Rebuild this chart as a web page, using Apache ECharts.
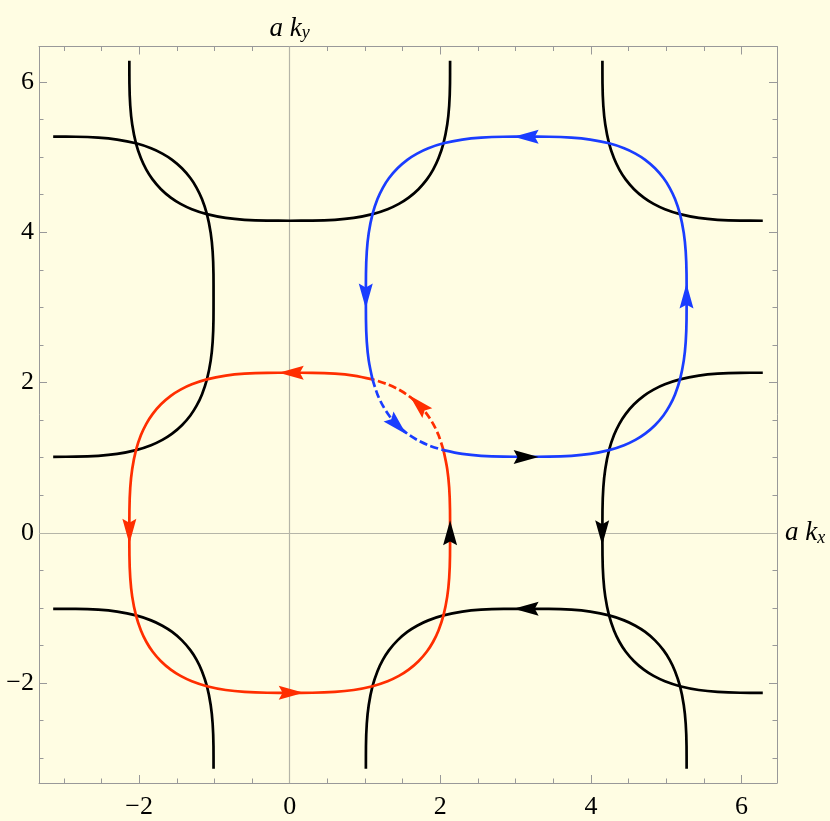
<!DOCTYPE html>
<html>
<head>
<meta charset="utf-8">
<script src="https://cdn.jsdelivr.net/npm/echarts@6/dist/echarts.min.js"></script>
<style>
  html, body { margin: 0; padding: 0; background: #fffde3; }
  #chart { width: 830px; height: 821px; }
</style>
</head>
<body>
<div id="chart"></div>
<script>
// one quarter of the rounded-square orbit (offset from loop centre),
// going counter-clockwise from the +x side to the +y side
var cornerProfile = [
  [2.13, 0], [2.129, 0.3], [2.118, 0.6], [2.092, 0.85], [2.042, 1.10],
  [1.976, 1.30], [1.905, 1.45], [1.822, 1.58], [1.71, 1.71],
  [1.58, 1.822], [1.45, 1.905], [1.30, 1.976], [1.10, 2.042],
  [0.85, 2.092], [0.6, 2.118], [0.3, 2.129], [0, 2.13]
];
// profile indices where the red and blue orbits cross
var crossIdx = [4, 12];

var redCenter = [0, 0];
var blueCenter = [Math.PI, Math.PI];
// open black pieces: lattice copies of the orbits, cut at the zone edges
var blackCenters = [
  [0, 2 * Math.PI], [-Math.PI, Math.PI], [-Math.PI, -Math.PI],
  [Math.PI, -Math.PI], [2 * Math.PI, 0], [2 * Math.PI, 2 * Math.PI]
];
var blackQuads = [[2, 3], [3, 0], [0], [0, 1], [1, 2], [2]];

// arrowheads: [x, y, direction of travel in degrees]
var redArrows = [[0.02, 2.13, 180], [-2.13, 0.02, 270], [0.02, -2.13, 0], [1.71, 1.71, 135]];
var blueArrows = [[3.14, 5.27, 180], [1.01, 3.15, 270], [5.27, 3.15, 90], [1.43, 1.43, -45]];
var blackArrows = [[2.13, 0, 90], [3.14, 1.01, 0], [4.15, 0, 270], [3.14, -1.01, 180]];

var xMin = -3.330, xMax = 6.472;
var yMin = -3.330, yMax = 6.472;
var majorTicks = [-2, 0, 2, 4, 6];
var minorTicks = [-3, -2.5, -1.5, -1, -0.5, 0.5, 1, 1.5, 2.5, 3, 3.5, 4.5, 5, 5.5, 6];

var N = cornerProfile.length - 1;

function quad(k, from, to) {
  return cornerProfile.slice(from, to + 1).map(function (p) {
    var x = p[0], y = p[1];
    if (k == 0) return [x, y];
    if (k == 1) return [-y, x];
    if (k == 2) return [-x, -y];
    return [y, -x];
  });
}
function piece(center, parts) {
  var pts = [];
  parts.forEach(function (p, i) {
    var q = quad(p[0], p[1], p[2]);
    if (i > 0) q = q.slice(1);
    pts = pts.concat(q);
  });
  return pts.map(function (p) { return [p[0] + center[0], p[1] + center[1]]; });
}

var RED = '#ff2e00', BLUE = '#1a3dff', BLACK = '#000000';
var SERIF = "'Liberation Serif', 'Times New Roman', Times, serif";
var a = crossIdx[0], b = crossIdx[1];

function curve(data, color, dashed, z) {
  return {
    type: 'line', data: data, symbol: 'none', smooth: 0.3, z: z,
    lineStyle: { color: color, width: 2.7, type: dashed ? [8, 3.5] : 'solid', cap: 'butt', join: 'round' },
    silent: true
  };
}

var arrowPath = 'path://M0,0L7,26L0,22L-7,26Z';
function arrows(list, color) {
  return {
    type: 'scatter', symbol: arrowPath, symbolSize: [14, 25], z: 10, silent: true,
    itemStyle: { color: color, opacity: 1 },
    data: list.map(function (p) { return { value: [p[0], p[1]], symbolRotate: p[2] - 90 }; })
  };
}

var labelRich = {
  t: { fontFamily: SERIF, fontStyle: 'italic', fontSize: 27, lineHeight: 28, color: '#000' },
  s: { fontFamily: SERIF, fontStyle: 'italic', fontSize: 18, lineHeight: 14, verticalAlign: 'bottom', color: '#000' }
};

var series = [];
blackCenters.forEach(function (c, i) {
  var parts = blackQuads[i].map(function (k) { return [k, 0, N]; });
  series.push(curve(piece(c, parts), BLACK, false, 3));
});
series.push(curve(piece(redCenter, [[0, b, N], [1, 0, N], [2, 0, N], [3, 0, N], [0, 0, a]]), RED, false, 4));
series.push(curve(piece(redCenter, [[0, a, b]]), RED, true, 4));
series.push(curve(piece(blueCenter, [[2, b, N], [3, 0, N], [0, 0, N], [1, 0, N], [2, 0, a]]), BLUE, false, 5));
series.push(curve(piece(blueCenter, [[2, a, b]]), BLUE, true, 5));
series.push(arrows(redArrows, RED));
series.push(arrows(blueArrows, BLUE));
series.push(arrows(blackArrows, BLACK));
// the coordinate axes through the origin, with their labels
series[0].markLine = {
  silent: true, symbol: ['none', 'none'], z: 1,
  lineStyle: { color: '#b5b5a8', type: 'solid', width: 1.2 },
  data: [
    { xAxis: 0, label: { show: true, position: 'end', distance: 4, formatter: '{t|a k}{s|y}', rich: labelRich } },
    { yAxis: 0, label: { show: true, position: 'end', distance: 8, formatter: '{t|a k}{s|x}', rich: labelRich } }
  ]
};

function fmt(v) { return v < 0 ? '\u2212' + (-v) : String(v); }
var frameColor = '#999999';
function axis(dim, pos, ticks, len, labels, line) {
  return {
    type: 'value', min: dim == 'x' ? xMin : yMin, max: dim == 'x' ? xMax : yMax,
    position: pos, splitLine: { show: false },
    axisLine: { show: line, onZero: false, lineStyle: { color: frameColor, width: 1 } },
    axisTick: { show: true, inside: true, length: len, customValues: ticks, lineStyle: { color: frameColor, width: 1 } },
    axisLabel: labels ? {
      show: true, customValues: majorTicks, formatter: fmt, margin: dim == 'x' ? 11 : 5,
      fontFamily: SERIF, fontSize: 26, color: '#000'
    } : { show: false }
  };
}

var chart = echarts.init(document.getElementById('chart'));
chart.setOption({
  backgroundColor: '#fffde3',
  animation: false,
  grid: { left: 39, right: 53, top: 46.5, bottom: 38, containLabel: false },
  xAxis: [
    axis('x', 'bottom', majorTicks, 8, true, true),
    axis('x', 'bottom', minorTicks, 4.5, false, false),
    axis('x', 'top', majorTicks, 8, false, true),
    axis('x', 'top', minorTicks, 4.5, false, false)
  ],
  yAxis: [
    axis('y', 'left', majorTicks, 8, true, true),
    axis('y', 'left', minorTicks, 4.5, false, false),
    axis('y', 'right', majorTicks, 8, false, true),
    axis('y', 'right', minorTicks, 4.5, false, false)
  ],
  series: series
});
</script>
</body>
</html>
